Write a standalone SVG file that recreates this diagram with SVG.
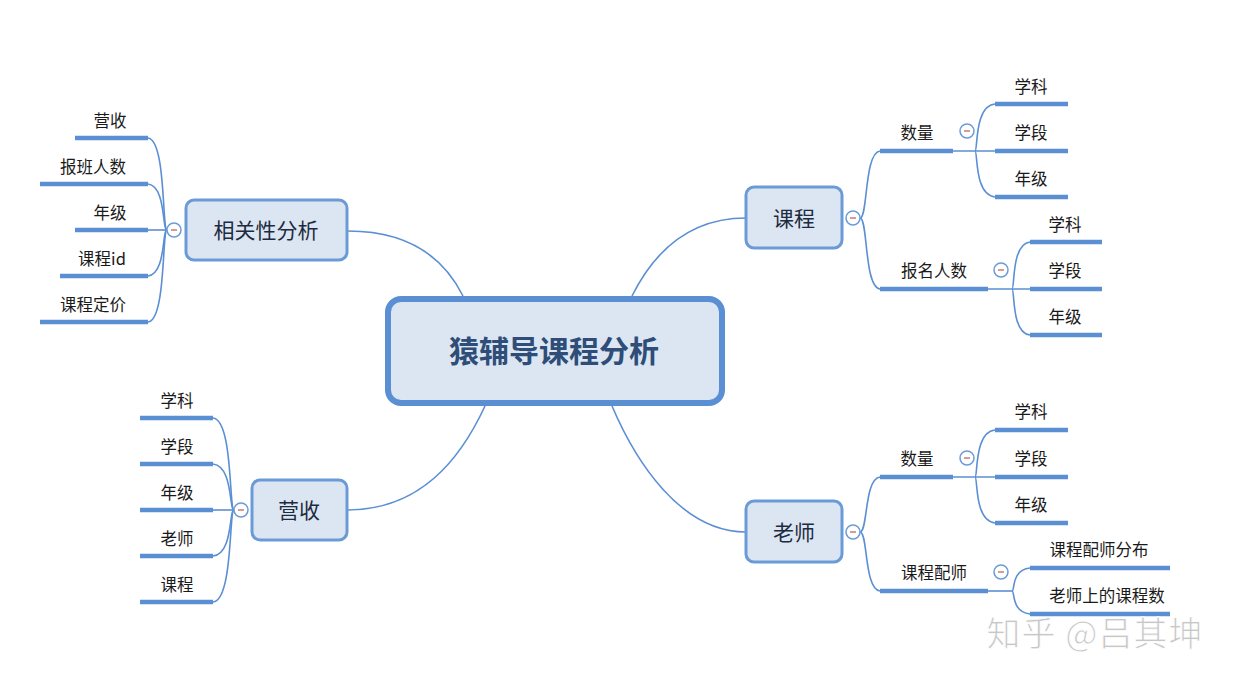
<svg xmlns="http://www.w3.org/2000/svg" width="1240" height="677" viewBox="0 0 1240 677">
<style>
text{font-family:"Noto Sans CJK SC","Noto Sans",sans-serif;}
.root{fill:#dce6f2;stroke:#5b8fd3;stroke-width:6;}
.main{fill:#dce6f2;stroke:#6b9bd6;stroke-width:3;}
.rt{font-size:30px;font-weight:bold;fill:#2e4d78;text-anchor:middle;}
.mt{font-size:21px;fill:#1d2b40;text-anchor:middle;}
.lt{font-size:16.5px;fill:#1a1a1a;text-anchor:middle;}
.ul{stroke:#5b8fd3;stroke-width:4.5;fill:none;}
.cv{stroke:#5b8fd3;stroke-width:1.6;fill:none;}
.tg{fill:#ffffff;stroke:#6b9bd6;stroke-width:1.5;}
.mn{stroke:#c97a7a;stroke-width:1.5;}
</style>
<rect width="1240" height="677" fill="#ffffff"/>
<g id="connectors">
<path class="cv" d="M463,296 C440,250 400,231 348,231"/>
<path class="cv" d="M632,296 C655,250 690,218 746,218"/>
<path class="cv" d="M485,406 C460,460 420,510 347,510"/>
<path class="cv" d="M612,406 C635,460 680,532 746,532"/>
<path class="cv" d="M167,230 C162,230 166,140 148,138"/>
<path class="cv" d="M167,230 C162,230 166,186 148,184"/>
<path class="cv" d="M167,230 L148,230"/>
<path class="cv" d="M167,230 C162,230 166,274 148,276"/>
<path class="cv" d="M167,230 C162,230 166,320 148,322"/>
<path class="cv" d="M234,510 C229,510 233,420 213,418"/>
<path class="cv" d="M234,510 C229,510 233,466 213,464"/>
<path class="cv" d="M234,510 L213,510"/>
<path class="cv" d="M234,510 C229,510 233,554 213,556"/>
<path class="cv" d="M234,510 C229,510 233,600 213,602"/>
<path class="cv" d="M860,218 C868,218 864,153 880,151"/>
<path class="cv" d="M860,218 C868,218 864,287 880,289"/>
<path class="cv" d="M953,151 L995,151"/>
<path class="cv" d="M975,151 C978,151 974,106 995,104"/>
<path class="cv" d="M975,151 C978,151 974,195 995,197"/>
<path class="cv" d="M988,289 L1030,289"/>
<path class="cv" d="M1012,289 C1015,289 1011,244 1030,242"/>
<path class="cv" d="M1012,289 C1015,289 1011,333 1030,335"/>
<path class="cv" d="M860,532 C868,532 864,479 880,477"/>
<path class="cv" d="M860,532 C868,532 864,589 880,591"/>
<path class="cv" d="M953,477 L995,477"/>
<path class="cv" d="M975,477 C978,477 974,432 995,430"/>
<path class="cv" d="M975,477 C978,477 974,521 995,523"/>
<path class="cv" d="M988,591 L1012,591"/>
<path class="cv" d="M1012,591 C1015,591 1011,570 1030,568"/>
<path class="cv" d="M1012,591 C1015,591 1011,612 1030,614"/>
</g>
<g id="root">
<rect class="root" x="388" y="299" width="334" height="104" rx="13"/>
<text class="rt" x="554" y="362">猿辅导课程分析</text>
</g>
<g id="node-correlation">
<rect class="main" x="186" y="200" width="161" height="60" rx="8"/>
<text class="mt" x="266" y="238">相关性分析</text>
<circle class="tg" cx="174" cy="230" r="7"/><line class="mn" x1="171" y1="230" x2="177" y2="230"/>
</g>
<g id="node-course">
<rect class="main" x="746" y="187" width="96" height="61" rx="8"/>
<text class="mt" x="794" y="226">课程</text>
<circle class="tg" cx="853" cy="218" r="7"/><line class="mn" x1="850" y1="218" x2="856" y2="218"/>
</g>
<g id="node-revenue">
<rect class="main" x="252" y="480" width="95" height="60" rx="8"/>
<text class="mt" x="299" y="518">营收</text>
<circle class="tg" cx="241" cy="510" r="7"/><line class="mn" x1="238" y1="510" x2="244" y2="510"/>
</g>
<g id="node-teacher">
<rect class="main" x="746" y="501" width="96" height="61" rx="8"/>
<text class="mt" x="794" y="540">老师</text>
<circle class="tg" cx="853" cy="532" r="7"/><line class="mn" x1="850" y1="532" x2="856" y2="532"/>
</g>
<g id="corr-leaves">
<line class="ul" x1="75" y1="138" x2="148" y2="138"/><text class="lt" x="110" y="127">营收</text>
<line class="ul" x1="40" y1="184" x2="148" y2="184"/><text class="lt" x="93" y="173">报班人数</text>
<line class="ul" x1="75" y1="230" x2="148" y2="230"/><text class="lt" x="110" y="219">年级</text>
<line class="ul" x1="60" y1="276" x2="148" y2="276"/><text class="lt" x="102" y="265">课程id</text>
<line class="ul" x1="40" y1="322" x2="148" y2="322"/><text class="lt" x="93" y="311">课程定价</text>
</g>
<g id="revenue-leaves">
<line class="ul" x1="140" y1="418" x2="213" y2="418"/><text class="lt" x="177" y="407">学科</text>
<line class="ul" x1="140" y1="464" x2="213" y2="464"/><text class="lt" x="177" y="453">学段</text>
<line class="ul" x1="140" y1="510" x2="213" y2="510"/><text class="lt" x="177" y="499">年级</text>
<line class="ul" x1="140" y1="556" x2="213" y2="556"/><text class="lt" x="177" y="545">老师</text>
<line class="ul" x1="140" y1="602" x2="213" y2="602"/><text class="lt" x="177" y="591">课程</text>
</g>
<g id="course-count">
<line class="ul" x1="880" y1="151" x2="953" y2="151"/><text class="lt" x="917" y="139">数量</text>
<circle class="tg" cx="967" cy="131" r="7"/><line class="mn" x1="964" y1="131" x2="970" y2="131"/>
<line class="ul" x1="995" y1="104" x2="1068" y2="104"/><text class="lt" x="1031" y="93">学科</text>
<line class="ul" x1="995" y1="151" x2="1068" y2="151"/><text class="lt" x="1031" y="139">学段</text>
<line class="ul" x1="995" y1="197" x2="1068" y2="197"/><text class="lt" x="1031" y="185">年级</text>
</g>
<g id="course-enroll">
<line class="ul" x1="880" y1="289" x2="988" y2="289"/><text class="lt" x="934" y="277">报名人数</text>
<circle class="tg" cx="1001" cy="270" r="7"/><line class="mn" x1="998" y1="270" x2="1004" y2="270"/>
<line class="ul" x1="1030" y1="242" x2="1102" y2="242"/><text class="lt" x="1065" y="231">学科</text>
<line class="ul" x1="1030" y1="289" x2="1102" y2="289"/><text class="lt" x="1065" y="277">学段</text>
<line class="ul" x1="1030" y1="335" x2="1102" y2="335"/><text class="lt" x="1065" y="323">年级</text>
</g>
<g id="teacher-count">
<line class="ul" x1="880" y1="477" x2="953" y2="477"/><text class="lt" x="917" y="465">数量</text>
<circle class="tg" cx="967" cy="458" r="7"/><line class="mn" x1="964" y1="458" x2="970" y2="458"/>
<line class="ul" x1="995" y1="430" x2="1068" y2="430"/><text class="lt" x="1031" y="418">学科</text>
<line class="ul" x1="995" y1="477" x2="1068" y2="477"/><text class="lt" x="1031" y="465">学段</text>
<line class="ul" x1="995" y1="523" x2="1068" y2="523"/><text class="lt" x="1031" y="511">年级</text>
</g>
<g id="teacher-match">
<line class="ul" x1="880" y1="591" x2="988" y2="591"/><text class="lt" x="934" y="579">课程配师</text>
<circle class="tg" cx="1001" cy="572" r="7"/><line class="mn" x1="998" y1="572" x2="1004" y2="572"/>
<line class="ul" x1="1030" y1="568" x2="1170" y2="568"/><text class="lt" x="1099" y="556">课程配师分布</text>
<line class="ul" x1="1030" y1="614" x2="1170" y2="614"/><text class="lt" x="1107" y="602">老师上的课程数</text>
</g>
<text x="1095" y="646" font-size="34" fill="#bdbdbd" fill-opacity="0.85" stroke="#ffffff" stroke-width="0.8" text-anchor="middle" letter-spacing="1" style="font-family:'Noto Sans CJK SC',sans-serif">知乎 @吕其坤</text>
</svg>
